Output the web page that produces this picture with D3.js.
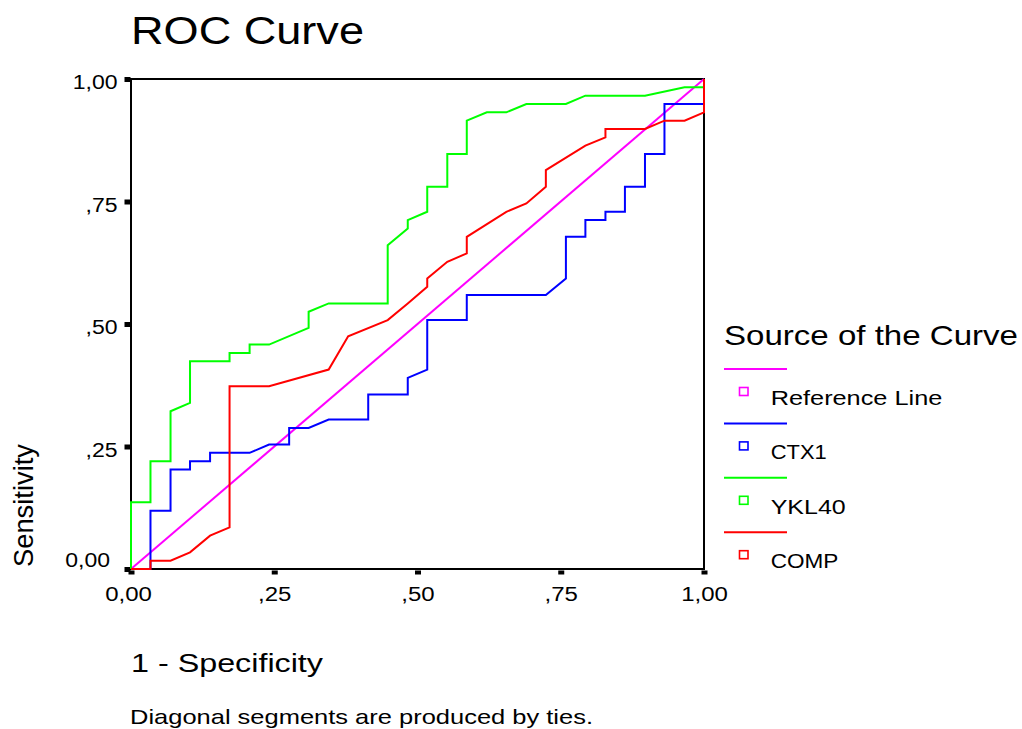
<!DOCTYPE html>
<html>
<head>
<meta charset="utf-8">
<script src="https://cdn.jsdelivr.net/npm/d3@7"></script>
<style>
  html, body { margin: 0; padding: 0; background: #fff; }
  svg { display: block; }
  text { font-family: "Liberation Sans", Arial, Helvetica, sans-serif; fill: #000; }
</style>
</head>
<body>
<svg id="chart" width="1022" height="729"></svg>
<script>
// ---- data ----
const tickValues = [0, 0.25, 0.5, 0.75, 1];
const tickLabels = ["0,00", ",25", ",50", ",75", "1,00"];

const seriesNames = ["Reference Line", "CTX1", "YKL40", "COMP"];
const seriesColors = ["#ff00ff", "#0000ff", "#00ff00", "#ff0000"];

const refFPR = [0, 1];
const refTPR = [0, 1];

const ctx1FPR = [0, 0.034, 0.034, 0.069, 0.069, 0.103, 0.103, 0.138, 0.138, 0.207, 0.241, 0.276, 0.276, 0.310, 0.345, 0.414, 0.414, 0.483, 0.483, 0.517, 0.517, 0.586, 0.586, 0.724, 0.759, 0.759, 0.793, 0.793, 0.828, 0.828, 0.862, 0.862, 0.897, 0.897, 0.931, 0.931, 1.0, 1.0];
const ctx1TPR = [0, 0, 0.119, 0.119, 0.203, 0.203, 0.220, 0.220, 0.237, 0.237, 0.254, 0.254, 0.288, 0.288, 0.305, 0.305, 0.356, 0.356, 0.390, 0.407, 0.508, 0.508, 0.559, 0.559, 0.593, 0.678, 0.678, 0.712, 0.712, 0.729, 0.729, 0.780, 0.780, 0.847, 0.847, 0.949, 0.949, 1.0];

const ykl40FPR = [0, 0, 0.034, 0.034, 0.069, 0.069, 0.103, 0.103, 0.172, 0.172, 0.207, 0.207, 0.241, 0.310, 0.310, 0.345, 0.448, 0.448, 0.483, 0.483, 0.517, 0.517, 0.552, 0.552, 0.586, 0.586, 0.621, 0.655, 0.690, 0.759, 0.793, 0.897, 0.966, 1.0, 1.0];
const ykl40TPR = [0, 0.136, 0.136, 0.220, 0.220, 0.322, 0.339, 0.424, 0.424, 0.441, 0.441, 0.458, 0.458, 0.492, 0.525, 0.542, 0.542, 0.661, 0.695, 0.712, 0.729, 0.780, 0.780, 0.847, 0.847, 0.915, 0.932, 0.932, 0.949, 0.949, 0.966, 0.966, 0.983, 0.983, 1.0];

const compFPR = [0, 0.034, 0.034, 0.069, 0.103, 0.138, 0.172, 0.172, 0.241, 0.345, 0.379, 0.448, 0.483, 0.517, 0.517, 0.552, 0.586, 0.586, 0.655, 0.690, 0.724, 0.724, 0.793, 0.828, 0.828, 0.897, 0.931, 0.966, 1.0, 1.0];
const compTPR = [0, 0, 0.017, 0.017, 0.034, 0.068, 0.085, 0.373, 0.373, 0.407, 0.475, 0.508, 0.542, 0.576, 0.593, 0.627, 0.644, 0.678, 0.729, 0.746, 0.780, 0.814, 0.864, 0.881, 0.898, 0.898, 0.915, 0.915, 0.932, 1.0];

const seriesFPR = [refFPR, ctx1FPR, ykl40FPR, compFPR];
const seriesTPR = [refTPR, ctx1TPR, ykl40TPR, compTPR];

// ---- drawing ----
const svg = d3.select("#chart");
const L = 131, R = 704, T = 79, B = 569;
const x = d3.scaleLinear().domain([0, 1]).range([L, R]);
const y = d3.scaleLinear().domain([0, 1]).range([B, T]);

function stretch(sel, k) {
  sel.each(function () {
    const w = this.getComputedTextLength();
    d3.select(this).attr("textLength", w * k).attr("lengthAdjust", "spacingAndGlyphs");
  });
}

// Title
svg.append("text").attr("x", 131).attr("y", 44.3)
  .attr("font-size", 38).attr("textLength", 233).attr("lengthAdjust", "spacingAndGlyphs")
  .text("ROC Curve");

// Plot frame
svg.append("rect").attr("x", L).attr("y", T).attr("width", R - L).attr("height", B - T)
  .attr("fill", "none").attr("stroke", "#000").attr("stroke-width", 2);

// X axis
const xAxis = svg.append("g").attr("transform", `translate(0,${B})`)
  .call(d3.axisBottom(x).tickValues(tickValues).tickFormat((d, i) => tickLabels[i]).tickSize(0));
xAxis.select(".domain").remove();
xAxis.selectAll(".tick").append("rect")
  .attr("x", -3).attr("y", 1.5).attr("width", 6).attr("height", 4).attr("fill", "#000");
xAxis.selectAll(".tick text")
  .attr("y", 31.7).attr("dy", 0).attr("font-size", 20).attr("fill", "#000")
  .style("font-family", '"Liberation Sans", Arial, sans-serif')
  .attr("dx", (d, i) => i === 0 ? -3 : 0);
stretch(xAxis.selectAll(".tick text"), 1.2);

// Y axis
const yAxis = svg.append("g").attr("transform", `translate(${L},0)`)
  .call(d3.axisLeft(y).tickValues(tickValues).tickFormat((d, i) => tickLabels[i]).tickSize(0));
yAxis.select(".domain").remove();
yAxis.selectAll(".tick").append("rect")
  .attr("x", -6.5).attr("y", -2.5).attr("width", 6).attr("height", 5).attr("fill", "#000");
yAxis.selectAll(".tick text")
  .attr("x", (d, i) => i === 0 ? -21 : -13.5)
  .attr("y", (d, i) => i === 0 ? -2.3 : 9.5)
  .attr("dy", 0).attr("font-size", 20).attr("fill", "#000")
  .style("font-family", '"Liberation Sans", Arial, sans-serif');
stretch(yAxis.selectAll(".tick text"), 1.15);

// Axis titles
svg.append("text").attr("x", 131).attr("y", 671.7)
  .attr("font-size", 25.6).attr("textLength", 192).attr("lengthAdjust", "spacingAndGlyphs")
  .text("1 - Specificity");
svg.append("text").attr("transform", "translate(33.3,567) rotate(-90)")
  .attr("font-size", 27).attr("textLength", 123).attr("lengthAdjust", "spacingAndGlyphs")
  .text("Sensitivity");

// Footnote
svg.append("text").attr("x", 130).attr("y", 724.3)
  .attr("font-size", 21).attr("textLength", 463).attr("lengthAdjust", "spacingAndGlyphs")
  .text("Diagonal segments are produced by ties.");

// Curves
const line = d3.line().x(d => x(d[0])).y(d => y(d[1]));
seriesNames.forEach((name, s) => {
  const pts = seriesFPR[s].map((f, i) => [f, seriesTPR[s][i]]);
  svg.append("path").datum(pts)
    .attr("d", line)
    .attr("fill", "none")
    .attr("stroke", seriesColors[s])
    .attr("stroke-width", 2)
    .attr("stroke-linejoin", "miter");
});

// Legend
svg.append("text").attr("x", 724).attr("y", 345)
  .attr("font-size", 28).attr("textLength", 294).attr("lengthAdjust", "spacingAndGlyphs")
  .text("Source of the Curve");
const legendWidths = [171.6, 56, 75, 67.6];
seriesNames.forEach((name, i) => {
  const oy = i * 54.4;
  svg.append("line").attr("x1", 724).attr("x2", 787).attr("y1", 369 + oy).attr("y2", 369 + oy)
    .attr("stroke", seriesColors[i]).attr("stroke-width", 2);
  svg.append("rect").attr("x", 739.5).attr("y", 387.5 + oy).attr("width", 8.5).attr("height", 8)
    .attr("fill", "none").attr("stroke", seriesColors[i]).attr("stroke-width", 1.6);
  svg.append("text").attr("x", 770.7).attr("y", 405 + oy)
    .attr("font-size", 21).attr("textLength", legendWidths[i]).attr("lengthAdjust", "spacingAndGlyphs")
    .text(name);
});
</script>
</body>
</html>
